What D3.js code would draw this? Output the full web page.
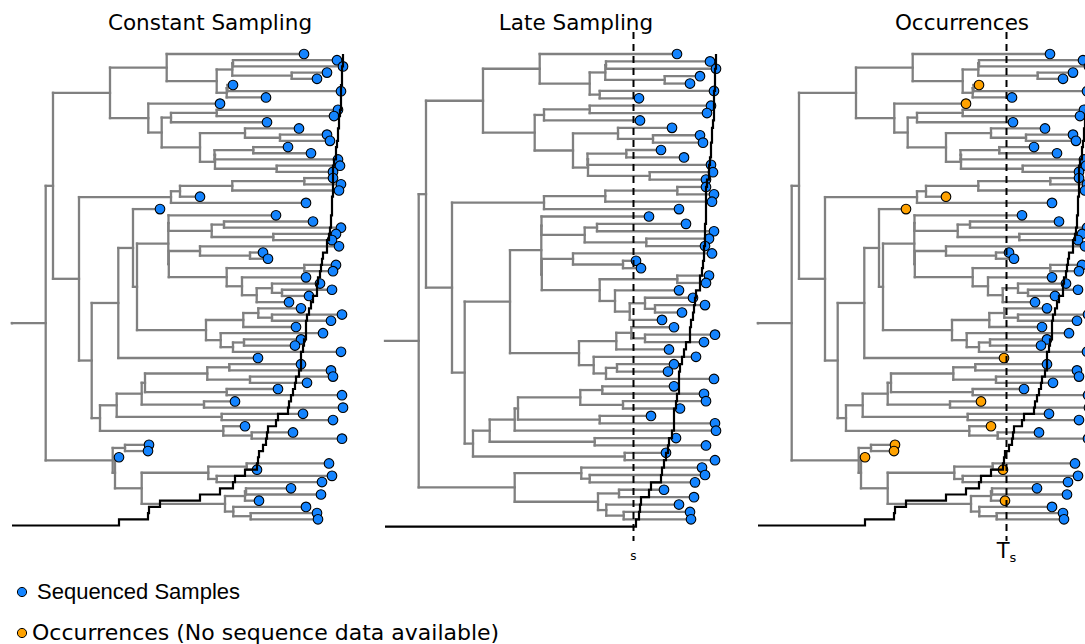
<!DOCTYPE html>
<html>
<head>
<meta charset="utf-8">
<script src="https://cdn.jsdelivr.net/npm/d3@7"></script>
<style>
  body { margin: 0; background: #fff; }
  svg { display: block; }
</style>
</head>
<body>
<script>
// sample time of each tip, tree order top -> bottom
const tipTimes = [292, 325, 331, 315, 305, 221, 329, 254, 208, 326,
  322, 255, 287, 315, 318, 276, 299, 326, 328, 321,
  321, 329, 327, 188, 294, 148, 264, 301, 329, 324,
  320, 327, 251, 256, 324, 321, 294, 308, 320, 297,
  277, 289, 330, 319, 284, 311, 289, 283, 329, 246,
  289, 319, 321, 295, 266, 330, 223, 331, 291, 321,
  233, 281, 330, 137, 136, 107, 317, 245, 320, 310,
  279, 309, 247, 294, 305, 306];

// topology: leaves are tip numbers, internal labels are node times
const cladeTop = "((1,(((2,3)221,(4,5)279.7)220.3,((6,7)215.5,8)214.7)204.7)154.7,(9,(((10,11)204.7,12)159,((13,(14,15)268)233,(((16,17)241.3,18)202.5,(19,20)264.7)203)188)149.7)136.3)98";
const cladeMid = "((((21,22)292.3,23)220.3,24)168,25)159";
const cladeG = "((27,((28,29)212,(30,31)261.3)199.7)156.5,((32,(33,34)238)188,((35,36)292.3,(37,((38,(39,40)270)260,41)244.7)230)214.7)156.8)156.3";
const cladeK = "(((42,(43,44)260)246.3,45)231.3,(46,((47,48)232,49)221)208.7)194";
const cladeL = "((((((51,52)217.3,(53,54)238)195.3,(55,56)214.7)133,(57,58)192)129.7,(59,60)209.7)104.7,(61,(62,63)239.7)211.3)88";
const cladeBottom = "((64,65)113,(66,(((67,68)234.7,(69,70)204.7)196.3,(((71,72)234,73)233,(74,(75,76)238.7)221.3)213)129.7)103)100.7";

const treeNewick = "(((" + cladeTop + ",(" + cladeMid + ",(((26,(" + cladeG + "," + cladeK +
  ")125)121,50)106.3," + cladeL + ")79.7)67)41," + cladeBottom + ")33.7";

const titles = ["Constant Sampling", "Late Sampling", "Occurrences"];
const samplingCut = 248.5;   // s / T_s
const legendLabels = ["Sequenced Samples", "Occurrences (No sequence data available)"];

const W = 1085, H = 644;
const panelX = [12, 385, 758];
const blue = "#1484ff", orange = "#ffa200";

function parseNewick(s) {
  let i = 0;
  const num = () => { const j = i; while (i < s.length && /[0-9.]/.test(s[i])) i++; return +s.slice(j, i); };
  function node() {
    if (s[i] === "(") {
      i++;
      const children = [node()];
      while (s[i] === ",") { i++; children.push(node()); }
      i++;
      return { time: num(), children };
    }
    const id = num();
    return { id, time: tipTimes[id - 1] };
  }
  return node();
}

function prune(n, keep) {
  if (!n.children) return keep(n) ? n : null;
  const kids = n.children.map(c => prune(c, keep)).filter(Boolean);
  if (!kids.length) return null;
  if (kids.length === 1) return kids[0];
  return { time: n.time, children: kids };
}

const fullTree = parseNewick(treeNewick);

const svg = d3.select("body").append("svg")
  .attr("width", W).attr("height", H);

const x = d3.scaleLinear().domain([0, 340]).range([0, 340]);

function drawPanel(p) {
  const data = p === 1 ? prune(fullTree, d => d.time >= samplingCut) : fullTree;
  const root = d3.hierarchy(data, d => d.children);
  const leaves = root.leaves();
  const n = leaves.length;
  const y = d3.scaleLinear().domain([0, n - 1]).range([54, 519.3]);
  leaves.forEach((d, i) => d.yi = i);
  root.eachAfter(d => {
    if (d.children) d.yi = (d.children[0].yi + d.children[d.children.length - 1].yi) / 2;
  });

  const g = svg.append("g").attr("transform", `translate(${panelX[p]},0)`);
  const edges = g.append("g")
    .attr("stroke", "#808080").attr("stroke-width", 2.3)
    .attr("stroke-linecap", "square").attr("fill", "none");

  // root edge
  edges.append("line")
    .attr("x1", x(0)).attr("x2", x(root.data.time))
    .attr("y1", y(root.yi)).attr("y2", y(root.yi));

  edges.selectAll(".h").data(root.descendants().slice(1)).join("line")
    .attr("x1", d => x(d.parent.data.time)).attr("x2", d => x(d.data.time))
    .attr("y1", d => y(d.yi)).attr("y2", d => y(d.yi));

  edges.selectAll(".v").data(root.descendants().filter(d => d.children)).join("line")
    .attr("x1", d => x(d.data.time)).attr("x2", d => x(d.data.time))
    .attr("y1", d => y(d.children[0].yi))
    .attr("y2", d => y(d.children[d.children.length - 1].yi));

  g.append("g").selectAll("circle").data(leaves).join("circle")
    .attr("cx", d => x(d.data.time)).attr("cy", d => y(d.yi)).attr("r", 4.8)
    .attr("fill", d => p === 2 && d.data.time < samplingCut ? orange : blue)
    .attr("stroke", "#000").attr("stroke-width", 1.1);

  // cumulative samples through time
  const times = leaves.map(d => d.data.time).sort(d3.ascending);
  const pts = [[0, 0]];
  times.forEach((t, k) => { pts.push([t, k]); pts.push([t, k + 1]); });
  g.append("path")
    .attr("d", d3.line().x(d => x(d[0])).y(d => y(n - d[1]))(pts))
    .attr("fill", "none").attr("stroke", "#000").attr("stroke-width", 2.2);

  if (p > 0) {
    g.append("line")
      .attr("x1", x(samplingCut)).attr("x2", x(samplingCut))
      .attr("y1", 32).attr("y2", 541)
      .attr("stroke", "#000").attr("stroke-width", 2)
      .attr("stroke-dasharray", "7,5");
    const lab = g.append("text").attr("x", x(samplingCut)).attr("y", 558)
      .attr("text-anchor", "middle").attr("font-family", "DejaVu Sans");
    if (p === 2) {
      lab.append("tspan").attr("font-size", 21).text("T");
      lab.append("tspan").attr("font-size", 13).attr("dy", 4).text("s");
    } else {
      lab.attr("font-size", 12).attr("y", 560).text("s");
    }
  }

  svg.append("text")
    .attr("x", panelX[p] + [198, 191, 204][p]).attr("y", 30)
    .attr("text-anchor", "middle")
    .attr("font-family", "DejaVu Sans").attr("font-size", 21.5)
    .text(titles[p]);
}

[0, 1, 2].forEach(drawPanel);

// legend
const legend = svg.append("g");
legend.append("circle").attr("cx", 22).attr("cy", 592).attr("r", 4.6)
  .attr("fill", blue).attr("stroke", "#000");
legend.append("text").attr("x", 37).attr("y", 599)
  .attr("font-family", "Liberation Sans").attr("font-size", 22)
  .text(legendLabels[0]);
legend.append("circle").attr("cx", 22).attr("cy", 633).attr("r", 4.6)
  .attr("fill", orange).attr("stroke", "#000");
legend.append("text").attr("x", 32).attr("y", 640)
  .attr("font-family", "DejaVu Sans").attr("font-size", 22)
  .text(legendLabels[1]);
</script>
</body>
</html>
